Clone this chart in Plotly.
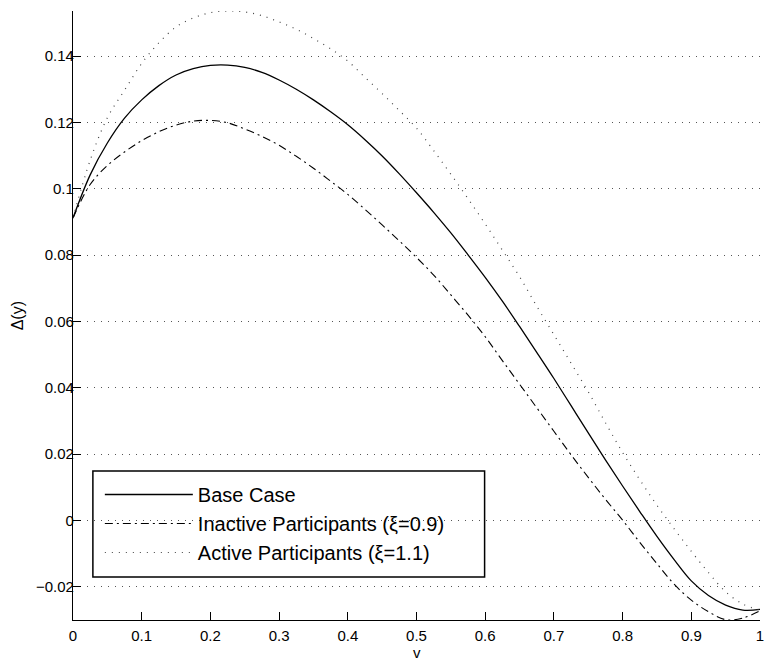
import plotly.graph_objects as go

# ---- data ----
v = [0, 0.025, 0.05, 0.075, 0.1, 0.125, 0.15, 0.175, 0.2, 0.225, 0.25, 0.275,
     0.3, 0.325, 0.35, 0.375, 0.4, 0.425, 0.45, 0.475, 0.5, 0.525, 0.55, 0.575,
     0.6, 0.625, 0.65, 0.675, 0.7, 0.725, 0.75, 0.775, 0.8, 0.825, 0.85, 0.875,
     0.9, 0.925, 0.95, 0.975, 1]

base_case = [0.0912, 0.1042, 0.1138, 0.1213, 0.1268, 0.1311, 0.1343, 0.1362,
             0.1372, 0.1373, 0.1366, 0.1351, 0.1328, 0.1300, 0.1268, 0.1232,
             0.1193, 0.1148, 0.1099, 0.1045, 0.0988, 0.0929, 0.0867, 0.0801,
             0.0733, 0.0661, 0.0585, 0.0507, 0.0428, 0.0346, 0.0264, 0.0183,
             0.0104, 0.0027, -0.0048, -0.0118, -0.0182, -0.0226, -0.0255,
             -0.0270, -0.0268]

inactive = [0.0912, 0.1013, 0.1070, 0.1111, 0.1145, 0.1172, 0.1192, 0.1204,
            0.1206, 0.1199, 0.1180, 0.1158, 0.1131, 0.1098, 0.1062, 0.1023,
            0.0983, 0.0938, 0.0891, 0.0843, 0.0793, 0.0740, 0.0680, 0.0619,
            0.0554, 0.0482, 0.0411, 0.0340, 0.0269, 0.0198, 0.0130, 0.0064,
            0.0001, -0.0066, -0.0130, -0.0192, -0.0240, -0.0275, -0.0299,
            -0.0294, -0.0272]

active = [0.0912, 0.1086, 0.1214, 0.1297, 0.1378, 0.1440, 0.1488, 0.1515,
          0.1531, 0.1536, 0.1533, 0.1522, 0.1503, 0.1481, 0.1453, 0.1422,
          0.1385, 0.1336, 0.1287, 0.1236, 0.1183, 0.1115, 0.1044, 0.0970,
          0.0894, 0.0815, 0.0735, 0.0646, 0.0560, 0.0474, 0.0388, 0.0295,
          0.0205, 0.0123, 0.0046, -0.0025, -0.0093, -0.0157, -0.0215,
          -0.0252, -0.0270]

x_ticks = [0, 0.1, 0.2, 0.3, 0.4, 0.5, 0.6, 0.7, 0.8, 0.9, 1]
x_tick_labels = ["0", "0.1", "0.2", "0.3", "0.4", "0.5", "0.6", "0.7", "0.8", "0.9", "1"]
y_ticks = [-0.02, 0, 0.02, 0.04, 0.06, 0.08, 0.1, 0.12, 0.14]
y_tick_labels = ["\u22120.02", "0", "0.02", "0.04", "0.06", "0.08", "0.1", "0.12", "0.14"]

series_names = ["Base Case", "Inactive Participants (\u03be=0.9)", "Active Participants (\u03be=1.1)"]
x_title = "v"
y_title = "\u0394(y)"

FONT = "Liberation Sans, Arial, Helvetica, sans-serif"

# plot-area geometry in pixels (used only for placing the legend box / titles)
L, R, T, B = 73, 764, 11, 620
PW, PH = R - L, B - T

fig = go.Figure()
fig.add_trace(go.Scatter(x=v, y=base_case, mode="lines", name=series_names[0],
                         line=dict(color="black", width=1.3, shape="spline", smoothing=1)))
fig.add_trace(go.Scatter(x=v, y=inactive, mode="lines", name=series_names[1],
                         line=dict(color="black", width=1.1, dash="8px,4px,2px,4px",
                                   shape="spline", smoothing=1)))
fig.add_trace(go.Scatter(x=v, y=active, mode="lines", name=series_names[2],
                         line=dict(color="#444", width=1.2, dash="1px,6px",
                                   shape="spline", smoothing=1)))

fig.update_layout(
    width=765, height=662,
    margin=dict(l=L, r=765 - R, t=T, b=662 - B),
    paper_bgcolor="white", plot_bgcolor="white",
    font=dict(family=FONT, size=15, color="black"),
    showlegend=True,
    legend=dict(x=(100 - L) / PW, y=(B - 475) / PH, xanchor="left", yanchor="top",
                bgcolor="rgba(0,0,0,0)", borderwidth=0,
                font=dict(family=FONT, size=20, color="black"),
                itemwidth=88, tracegroupgap=0),
    shapes=[dict(type="rect", xref="paper", yref="paper",
                 x0=(93 - L) / PW, x1=(487 - L) / PW,
                 y0=(B - 577) / PH, y1=(B - 471) / PH,
                 line=dict(color="black", width=1.5), fillcolor="rgba(0,0,0,0)",
                 layer="below")],
    annotations=[
        dict(text=y_title, xref="paper", yref="paper",
             x=(18 - L) / PW, y=(B - 316) / PH, xanchor="center",
             yanchor="middle", textangle=-90, showarrow=False,
             font=dict(family=FONT, size=16, color="black")),
        dict(text=x_title, xref="paper", yref="paper",
             x=0.5, y=(B - 652) / PH, xanchor="center",
             yanchor="middle", showarrow=False,
             font=dict(family=FONT, size=15, color="black")),
    ],
)

fig.update_xaxes(range=[0, 1], tickvals=x_ticks, ticktext=x_tick_labels,
                 showgrid=False, zeroline=False, showline=True, linecolor="black",
                 linewidth=1.3, mirror=False, ticks="inside", ticklen=8,
                 tickcolor="black", tickwidth=1, ticklabeloverflow="allow",
                 ticklabelstandoff=2)
fig.update_yaxes(range=[-0.03, 0.1536], tickvals=y_ticks, ticktext=y_tick_labels,
                 showgrid=True, gridcolor="#555", griddash="1px,6px", gridwidth=1,
                 zeroline=False, showline=True, linecolor="black", linewidth=1.3,
                 mirror=False, ticks="inside", ticklen=8, tickcolor="black",
                 tickwidth=1, ticklabeloverflow="allow", ticklabelstandoff=-5)

fig.write_html("out.html", config={"displayModeBar": False},
               post_script="document.body.style.margin='0';")
